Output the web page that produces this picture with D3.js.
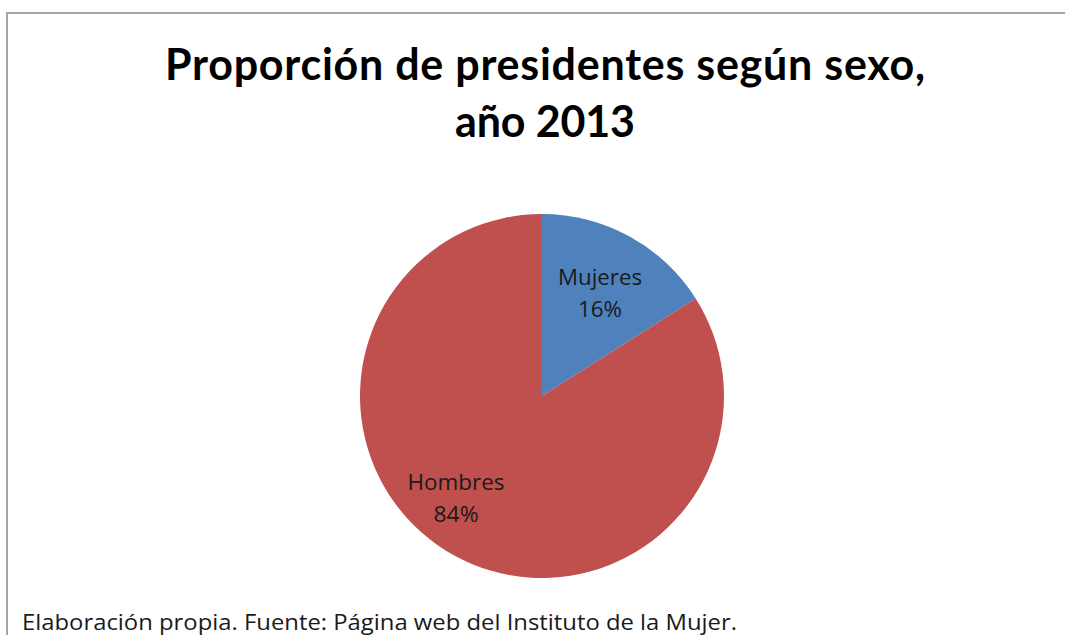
<!DOCTYPE html>
<html>
<head>
<meta charset="utf-8">
<script src="https://cdn.jsdelivr.net/npm/d3@7"></script>
<style>
  html, body { margin: 0; padding: 0; background: #ffffff; }
  svg { display: block; }
</style>
</head>
<body>
<svg id="chart" width="1065" height="635"></svg>
<script>
// ---- data ----
const categories = ["Mujeres", "Hombres"];
const values = [16, 84];
const titleLines = ["Proporción de presidentes según sexo,", "año 2013"];
const footnote = "Elaboración propia. Fuente: Página web del Instituto de la Mujer.";

// ---- layout / style ----
const W = 1065, H = 635;
const cx = 542, cy = 396, R = 182;
const colors = d3.scaleOrdinal().domain(categories).range(["#4F81BD", "#C0504D"]);
const TITLE_FONT = "Lato, 'Open Sans', sans-serif";
const FONT = "'Open Sans', Lato, sans-serif";
const titleWidths = [760, 180];
const labelWidths = { Mujeres: [84, 44], Hombres: [97, 45] };

const svg = d3.select("#chart");

// chart border
svg.append("rect")
  .attr("x", 7).attr("y", 13)
  .attr("width", W + 10).attr("height", H + 10)
  .attr("fill", "#ffffff")
  .attr("stroke", "#a6a6a6")
  .attr("stroke-width", 2);

// title
svg.append("g").selectAll("text")
  .data(titleLines)
  .join("text")
  .attr("x", cx + 3)
  .attr("y", (d, i) => 80 + i * 57)
  .attr("text-anchor", "middle")
  .attr("font-family", TITLE_FONT)
  .attr("font-weight", "bold")
  .attr("font-size", 43)
  .attr("fill", "#000")
  .attr("textLength", (d, i) => titleWidths[i])
  .attr("lengthAdjust", "spacing")
  .text(d => d);

// pie
const pie = d3.pie().sort(null).value(d => d.value);
const data = categories.map((c, i) => ({ name: c, value: values[i] }));
const arcs = pie(data);
const arc = d3.arc().innerRadius(0).outerRadius(R);
const labelArc = d3.arc().innerRadius(R * 0.65).outerRadius(R * 0.65);
const total = d3.sum(values);

const g = svg.append("g").attr("transform", `translate(${cx},${cy})`);
g.selectAll("path")
  .data(arcs)
  .join("path")
  .attr("d", arc)
  .attr("fill", d => colors(d.data.name));

// Excel-like label nudge for the large slice (layout only)
const nudge = { Mujeres: [1, 1], Hombres: [-29, -2] };
const labels = g.selectAll("g.lbl")
  .data(arcs)
  .join("g")
  .attr("class", "lbl")
  .attr("transform", d => {
    const [x, y] = labelArc.centroid(d);
    const n = nudge[d.data.name] || [0, 0];
    return `translate(${x + n[0]},${y + n[1]})`;
  });
labels.append("text")
  .attr("text-anchor", "middle")
  .attr("y", -8)
  .attr("font-family", FONT)
  .attr("font-size", 21)
  .attr("fill", "#1a1a1a")
  .attr("textLength", d => labelWidths[d.data.name][0])
  .attr("lengthAdjust", "spacingAndGlyphs")
  .text(d => d.data.name);
labels.append("text")
  .attr("text-anchor", "middle")
  .attr("y", 24)
  .attr("font-family", FONT)
  .attr("font-size", 21)
  .attr("fill", "#1a1a1a")
  .attr("textLength", d => labelWidths[d.data.name][1])
  .attr("lengthAdjust", "spacingAndGlyphs")
  .text(d => d3.format(".0%")(d.data.value / total));

// footnote
svg.append("text")
  .attr("x", 22)
  .attr("y", 630)
  .attr("font-family", FONT)
  .attr("font-size", 21)
  .attr("fill", "#1a1a1a")
  .attr("textLength", 715)
  .attr("lengthAdjust", "spacingAndGlyphs")
  .text(footnote);
</script>
</body>
</html>
